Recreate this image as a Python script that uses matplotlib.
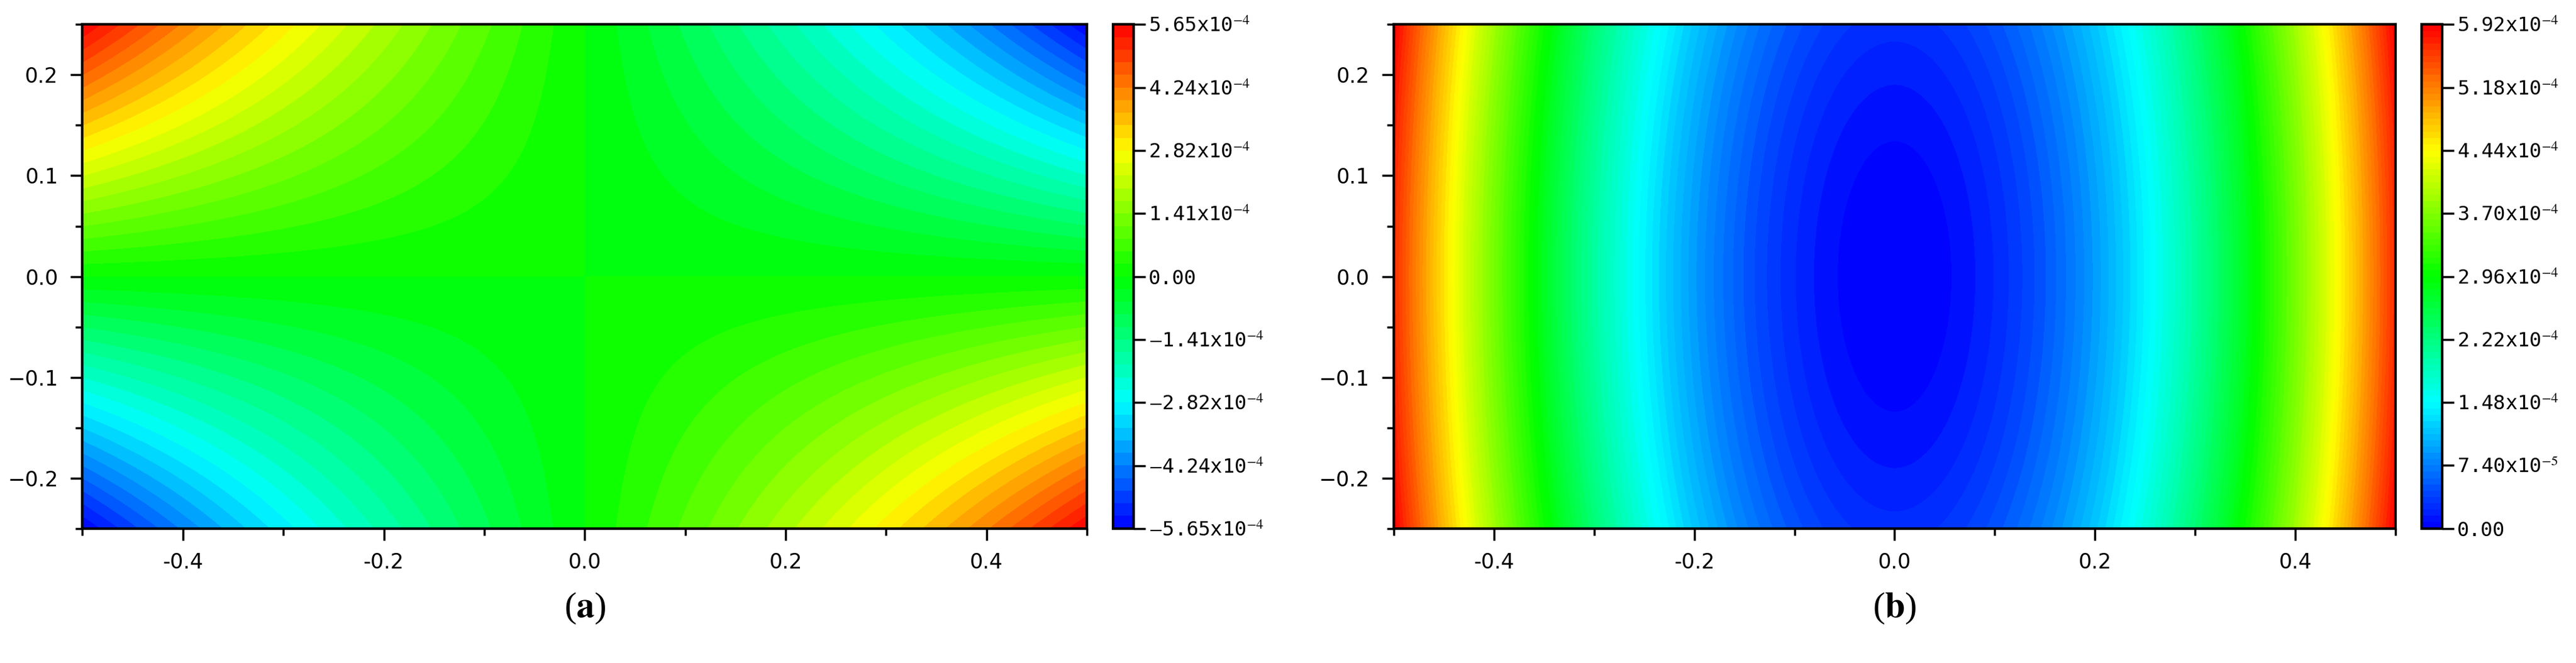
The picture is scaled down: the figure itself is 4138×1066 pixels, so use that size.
import numpy as np
import matplotlib
matplotlib.use("Agg")
import matplotlib.pyplot as plt
from matplotlib.colors import LinearSegmentedColormap
from matplotlib.ticker import MultipleLocator

plt.rcParams["mathtext.fontset"] = "stix"

# data
x_range = [-0.5, 0.5]
y_range = [-0.25, 0.25]
a_max = 5.65e-4
b_max = 5.92e-4
a_ticks = [-5.65e-4, -4.24e-4, -2.82e-4, -1.41e-4, 0.0, 1.41e-4, 2.82e-4, 4.24e-4, 5.65e-4]
a_labels = ["$-$5.65x10$^{-4}$", "$-$4.24x10$^{-4}$", "$-$2.82x10$^{-4}$", "$-$1.41x10$^{-4}$", "0.00",
            "1.41x10$^{-4}$", "2.82x10$^{-4}$", "4.24x10$^{-4}$", "5.65x10$^{-4}$"]
b_ticks = [0.0, 7.40e-5, 1.48e-4, 2.22e-4, 2.96e-4, 3.70e-4, 4.44e-4, 5.18e-4, 5.92e-4]
b_labels = ["0.00", "7.40x10$^{-5}$", "1.48x10$^{-4}$", "2.22x10$^{-4}$", "2.96x10$^{-4}$",
            "3.70x10$^{-4}$", "4.44x10$^{-4}$", "5.18x10$^{-4}$", "5.92x10$^{-4}$"]
panel_labels = ["a", "b"]

cmap = LinearSegmentedColormap.from_list("c", ["#0000ff", "#00ffff", "#00ff00", "#ffff00", "#ff0000"])

X, Y = np.meshgrid(np.linspace(*x_range, 401), np.linspace(*y_range, 201))
fa = -X * Y * (1 + X**2)
fa = fa / np.abs(fa).max() * a_max
fb = X**2 + 0.18 * Y**2
fb = fb / fb.max() * b_max

fig = plt.figure(figsize=(41.38, 10.66), dpi=100)
axes = [fig.add_axes([0.032, 0.203, 0.390, 0.760]), fig.add_axes([0.541, 0.203, 0.389, 0.760])]
caxes = [fig.add_axes([0.432, 0.203, 0.008, 0.760]), fig.add_axes([0.940, 0.203, 0.008, 0.760])]

for ax, cax, f, lo, hi, n, ticks, labels, pl in [
        (axes[0], caxes[0], fa, -a_max, a_max, 41, a_ticks, a_labels, panel_labels[0]),
        (axes[1], caxes[1], fb, 0, b_max, 81, b_ticks, b_labels, panel_labels[1])]:
    cs = ax.contourf(X, Y, f, levels=np.linspace(lo, hi, n), cmap=cmap)
    ax.set_xlim(*x_range); ax.set_ylim(*y_range)
    ax.xaxis.set_major_locator(MultipleLocator(0.2)); ax.xaxis.set_minor_locator(MultipleLocator(0.1))
    ax.yaxis.set_major_locator(MultipleLocator(0.1)); ax.yaxis.set_minor_locator(MultipleLocator(0.05))
    ax.tick_params(which="major", length=14, width=2.5, labelsize=24, pad=14)
    ax.tick_params(which="minor", length=8, width=2.5)
    for s in ax.spines.values():
        s.set_linewidth(3)
    ax.set_xticklabels([f"{v:.1f}" for v in ax.get_xticks()])
    cb = fig.colorbar(cs, cax=cax, ticks=ticks)
    cb.ax.set_yticklabels(labels, family="DejaVu Sans Mono", fontsize=23)
    cb.ax.tick_params(length=14, width=2.5)
    cb.outline.set_linewidth(3)
    pos = ax.get_position()
    fig.text((pos.x0 + pos.x1) / 2, 0.07, f"($\\mathbf{{{pl}}}$)", fontsize=42,
             family="Liberation Serif", ha="center", va="baseline")

fig.savefig("out.png", dpi=100)
